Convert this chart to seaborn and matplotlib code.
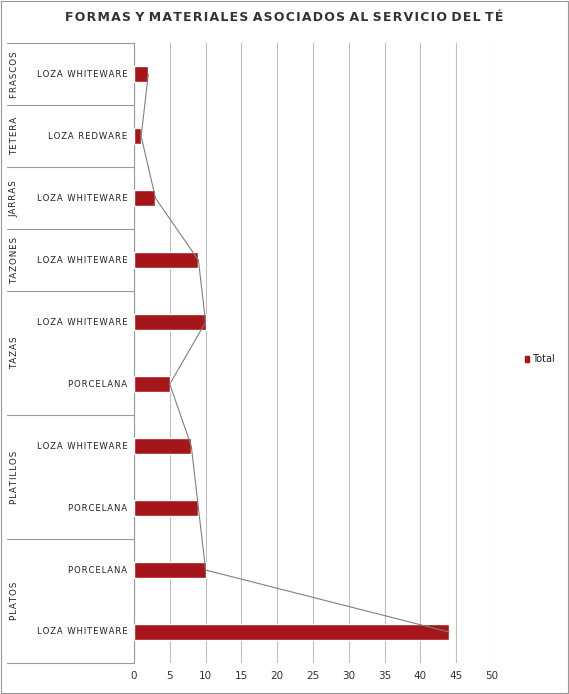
import matplotlib
matplotlib.use("Agg")
import matplotlib.pyplot as plt
import seaborn as sns
import pandas as pd
from matplotlib.lines import Line2D
from matplotlib.patches import Rectangle

groups = ["FRASCOS", "TETERA", "JARRAS", "TAZONES", "TAZAS", "TAZAS", "PLATILLOS", "PLATILLOS", "PLATOS", "PLATOS"]
materials = ["LOZA WHITEWARE", "LOZA REDWARE", "LOZA WHITEWARE", "LOZA WHITEWARE", "LOZA WHITEWARE",
             "PORCELANA", "LOZA WHITEWARE", "PORCELANA", "PORCELANA", "LOZA WHITEWARE"]
values = [2, 1, 3, 9, 10, 5, 8, 9, 10, 44]

def sp(s):
    return "\u200a".join(s)

sns.set_style("white")
plt.rcParams['font.family'] = ['DejaVu Sans']
df = pd.DataFrame({"row": [f"{g}|{m}|{i}" for i, (g, m) in enumerate(zip(groups, materials))],
                   "Total": values})

fig = plt.figure(figsize=(5.69, 6.94), dpi=100)
ax = fig.add_axes([0.2355, 0.0447, 0.629, 0.893])
sns.barplot(data=df, y="row", x="Total", orient="h", color="#a5161a", width=0.26,
            saturation=1, ax=ax, zorder=3)
ax.plot(values, range(len(values)), color="#808080", lw=0.8, zorder=4)
ax.set_xlim(0, 50)
ax.set_ylim(9.5, -0.5)
ax.set_xticks(range(0, 51, 5))
ax.tick_params(axis="x", labelsize=7.5, colors="#333333", length=0, pad=6)
ax.set_yticks([])
ax.set_xlabel(""); ax.set_ylabel("")
ax.grid(axis="x", color="#bfbfbf", lw=0.8, zorder=0)
for s in ["top", "right", "bottom"]:
    ax.spines[s].set_visible(False)
ax.spines["left"].set_color("#999999")
ax.spines["left"].set_linewidth(0.8)

trans = ax.get_yaxis_transform()
for i, m in enumerate(materials):
    ax.text(-0.018, i, sp(m), transform=trans, ha="right", va="center", fontsize=6.1, color="#222222")

xl = -0.355
bounds = [-0.5]
for i in range(1, len(groups)):
    if groups[i] != groups[i - 1]:
        bounds.append(i - 0.5)
bounds.append(9.5)
for b in bounds:
    ax.add_line(Line2D([xl, 0], [b, b], transform=trans, color="#999999", lw=0.8, clip_on=False))
for s, e in zip(bounds[:-1], bounds[1:]):
    g = groups[int(s + 0.5)]
    ax.text(-0.335, (s + e) / 2, sp(g), transform=trans, rotation=90, ha="center", va="center",
            fontsize=6.3, color="#222222")

fig.text(0.5, 0.975, sp("FORMAS Y MATERIALES ASOCIADOS AL SERVICIO DEL TÉ").replace("\u200a \u200a", " "),
         ha="center", va="center", fontsize=9, fontweight="bold", color="#333333")

fig.patches.append(Rectangle((0.922, 0.478), 0.008, 0.0095, transform=fig.transFigure,
                             color="#a5161a"))
fig.text(0.935, 0.483, "Total", fontsize=7, va="center", color="#222222")
fig.patches.append(Rectangle((0.001, 0.001), 0.997, 0.997, transform=fig.transFigure,
                             fill=False, ec="#999999", lw=0.8))
fig.savefig("out.png", dpi=100)
